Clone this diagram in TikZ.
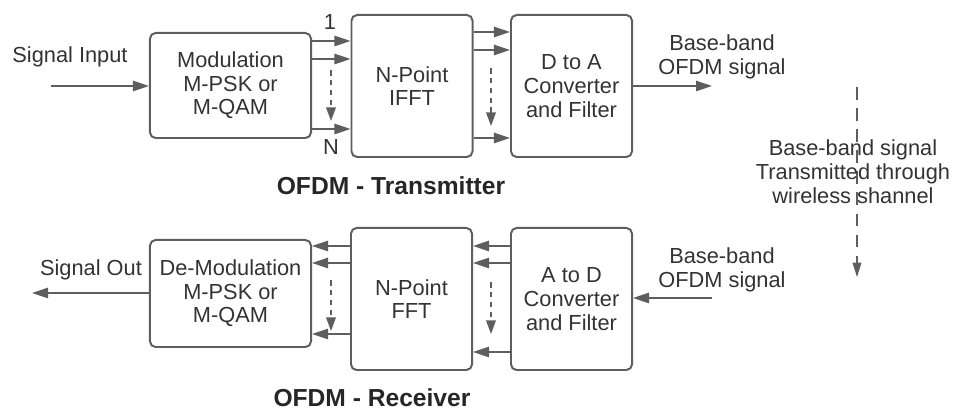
\documentclass[tikz,border=0pt]{standalone}
\usepackage{tikz}
\usepackage{xcolor}
\usepackage{fontspec}
\setmainfont{Liberation Sans}
\usetikzlibrary{arrows.meta}

\definecolor{linegray}{HTML}{5E5E5E}
\definecolor{textgray}{HTML}{333333}

\begin{document}
\begin{tikzpicture}[x=0.025cm, y=-0.025cm,
      box/.style={draw=linegray, line width=1.4pt, rounded corners=4pt,
                  align=center, text=textgray, inner sep=0pt,
                  font=\fontsize{15.5}{16.8}\selectfont},
      lbl/.style={align=center, text=textgray, inner sep=0pt,
                  font=\fontsize{15.5}{17.2}\selectfont},
      ttl/.style={text=black!85, inner sep=0pt,
                  font=\fontsize{17.5}{20}\selectfont\bfseries},
      arr/.style={draw=linegray, line width=1.1pt,
                  -{Triangle[length=0.4cm, width=0.26cm]}},
      dots/.style={arr, dashed, dash pattern=on 4pt off 3pt,
                   -{Triangle[length=0.34cm, width=0.24cm]}},
      chan/.style={arr, dash pattern=on 9pt off 6pt, line width=0.8pt,
                   -{Triangle[length=0.36cm, width=0.22cm]}}
    ]
      \useasboundingbox (0,0) rectangle (956,411);

      % Transmitter
      \node[box, minimum width=4.025cm, minimum height=2.625cm] (mod) at (230.5,85.5)
        {Modulation\\M-PSK or\\M-QAM};
      \node[box, minimum width=3.025cm, minimum height=3.55cm] (ifft) at (412,86)
        {N-Point\\IFFT};
      \node[box, minimum width=3.025cm, minimum height=3.55cm] (da) at (571.5,86)
        {D to A\\Converter\\and Filter};
      \node[lbl] (sin) at (70,57) {Signal Input};
      \node[lbl] (one) at (330,22) {1};
      \node[lbl] (en) at (331,147) {N};
      \node[lbl] (txout) at (722,57) {Base-band\\OFDM signal};
      \node[ttl] (txt) at (391,186) {OFDM - Transmitter};

      \draw[arr] (51,86) -- (mod.west |- 0,86);
      \foreach \y in {41,59,129}
        \draw[arr] (mod.east |- 0,\y) -- (ifft.west |- 0,\y);
      \draw[dots] (331,70) -- (331,121);
      \foreach \y in {32,50,138}
        \draw[arr] (ifft.east |- 0,\y) -- (da.west |- 0,\y);
      \draw[dots] (491,68) -- (491,126);
      \draw[arr] (da.east |- 0,86) -- (712,86);

      % Channel
      \draw[chan] (857,87) -- (857,277);
      \node[lbl] (ch) at (853,172)
        {Base-band signal\\Transmitted through\\wireless shannel};

      % Receiver
      \node[box, minimum width=4.025cm, minimum height=2.675cm] (demod) at (230.5,293.5)
        {De-Modulation\\M-PSK or\\M-QAM};
      \node[box, minimum width=3.025cm, minimum height=3.55cm] (fft) at (411.5,299)
        {N-Point\\FFT};
      \node[box, minimum width=3.025cm, minimum height=3.55cm] (ad) at (571.5,299)
        {A to D\\Converter\\and Filter};
      \node[lbl] (sout) at (91,270) {Signal Out};
      \node[lbl] (rxin) at (722,270) {Base-band\\OFDM signal};
      \node[ttl] (rxt) at (372,398) {OFDM - Receiver};

      \draw[arr] (712,298) -- (ad.east |- 0,298);
      \foreach \y in {246,263,352}
        \draw[arr] (ad.west |- 0,\y) -- (fft.east |- 0,\y);
      \draw[dots] (491,282) -- (491,334);
      \foreach \y in {246,263,334}
        \draw[arr] (fft.west |- 0,\y) -- (demod.east |- 0,\y);
      \draw[dots] (331,280) -- (331,331);
      \draw[arr] (demod.west |- 0,293) -- (32,293);
    \end{tikzpicture}
\end{document}
